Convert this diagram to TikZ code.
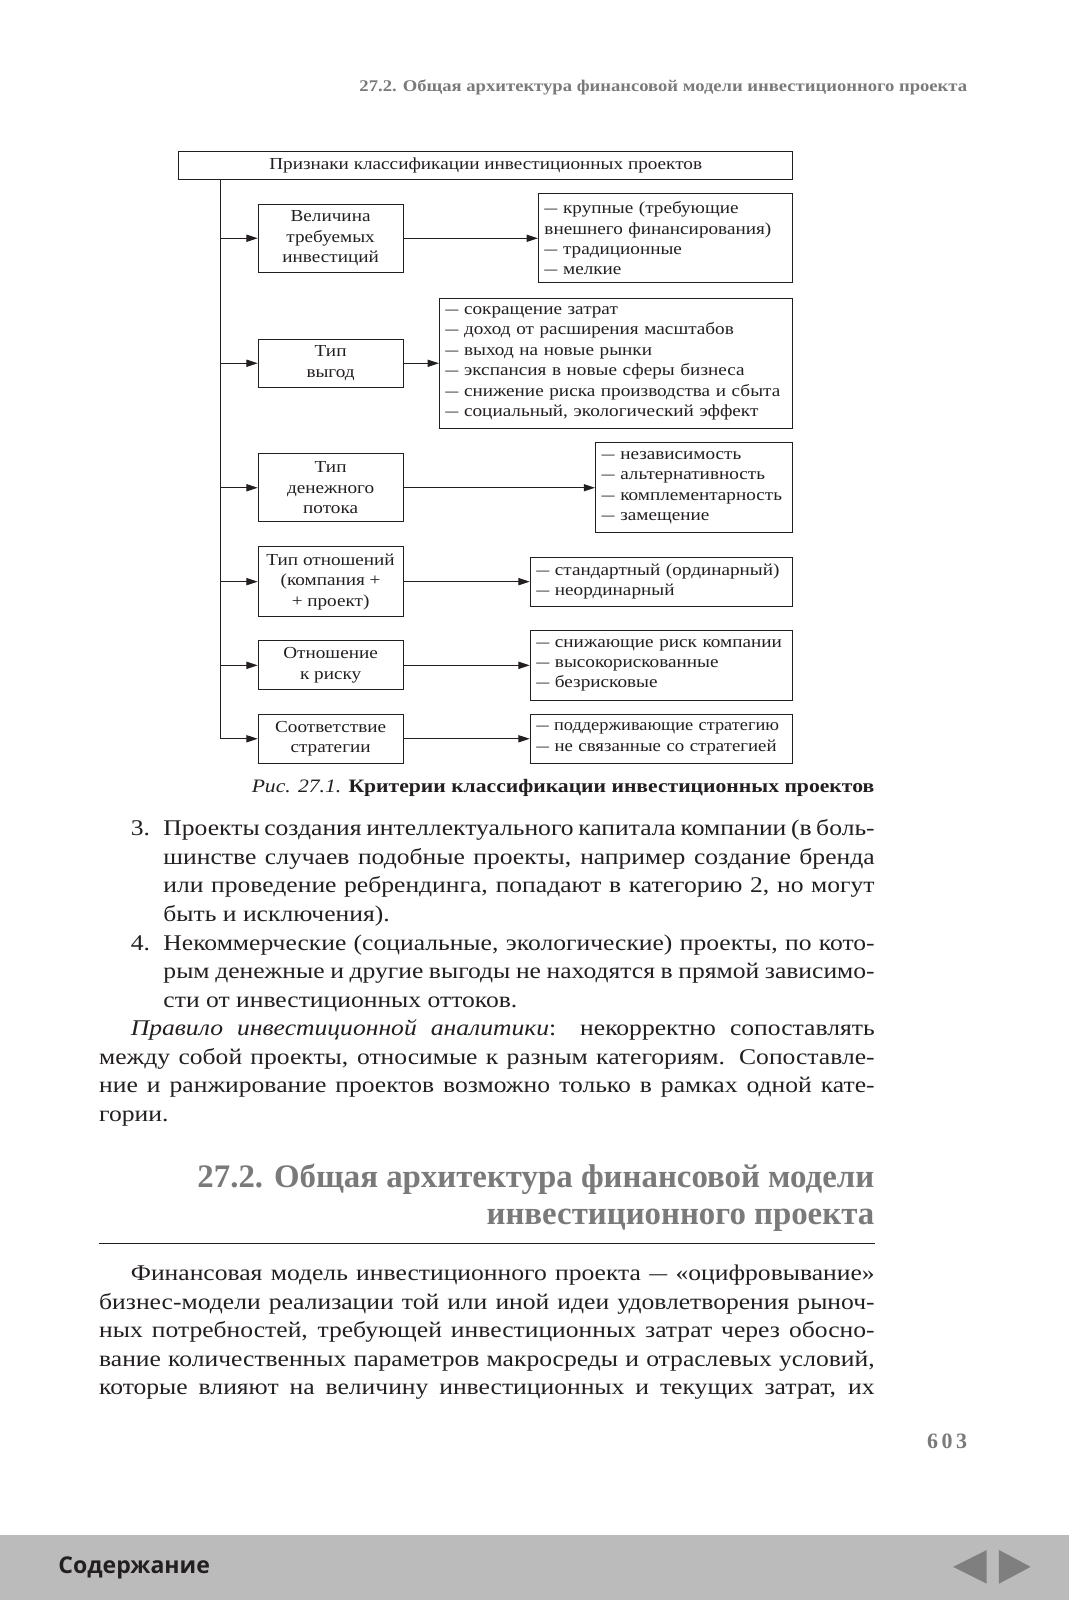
\documentclass[tikz,border=0pt]{standalone}
\usepackage{graphicx}
\usepackage{fontspec}
\setmainfont{Liberation Serif}[FakeStretch=1.14]
\newfontfamily\headfont{Liberation Serif}
\newfontfamily\footfont{Open Sans}
\usetikzlibrary{arrows.meta}
\definecolor{ink}{HTML}{231F20}
\definecolor{headgray}{HTML}{7A7A7A}
\definecolor{barfill}{HTML}{BBBBBB}
\definecolor{navgray}{HTML}{7F7F7F}
\newcommand\dsh{\scalebox{0.68}[1]{—}}
\newcommand\bodyln[5]{\node[txt] (#1) at (#2,#3) {\makebox[#4pt][s]{#5}};}
\newcommand\raggln[4]{\node[txt] (#1) at (#2,#3) {#4};}
\begin{document}
\begin{tikzpicture}[x=1pt,y=-1pt,
  diag/.style={font=\fontsize{16.5}{20}\selectfont, text=ink},
  lbox/.style={draw=ink, line width=0.9pt, minimum width=142pt, inner sep=0pt, align=center, diag},
  rbox/.style={draw=ink, line width=0.9pt, inner xsep=6pt, inner ysep=0pt, align=left, diag, anchor=east},
  arr/.style={-{Triangle[length=11pt,width=7pt]}, line width=0.9pt, draw=ink},
  txt/.style={inner sep=0pt, anchor=base west, text=ink, font=\fontsize{22}{28}\selectfont}]
\useasboundingbox (0,0) rectangle (1047.6,1568);
\fill[white] (0,0) rectangle (1047.6,1568);

% running header
\node[inner sep=0pt, anchor=base east, text=headgray, font=\fontsize{16}{20}\selectfont\bfseries] (hdr) at (948,90) {27.2. Общая архитектура финансовой модели инвестиционного проекта};

% diagram
\node[draw=ink, line width=0.9pt, minimum width=602pt, minimum height=28pt, inner sep=0pt, diag] (title) at (476,162) {Признаки классификации инвестиционных проектов};
\coordinate (vtop) at (216,176);
\coordinate (vbot) at (216,724);
\draw[line width=0.9pt, ink] (vtop) -- (vbot);

\node[lbox, minimum height=67pt] (b1) at (324,233.5) {Величина\\требуемых\\инвестиций};
\node[lbox, minimum height=47pt] (b2) at (324,356) {Тип\\выгод};
\node[lbox, minimum height=67pt] (b3) at (324,478) {Тип\\денежного\\потока};
\node[lbox, minimum height=68pt] (b4) at (324,570) {Тип отношений\\(компания +\\+ проект)};
\node[lbox, minimum height=48pt] (b5) at (324,652) {Отношение\\к риску};
\node[lbox, minimum height=48pt] (b6) at (324,724) {Соответствие\\стратегии};

\node[rbox, text width=237pt, minimum height=87pt] (r1) at (777,233.5) {\dsh~крупные (требующие\\внешнего финансирования)\\\dsh~традиционные\\\dsh~мелкие};
\node[rbox, text width=334pt, minimum height=128pt] (r2) at (777,356) {\dsh~сокращение затрат\\\dsh~доход от расширения масштабов\\\dsh~выход на новые рынки\\\dsh~экспансия в новые сферы бизнеса\\\dsh~снижение риска производства и сбыта\\\dsh~социальный, экологический эффект};
\node[rbox, text width=181pt, minimum height=88pt] (r3) at (777,478) {\dsh~независимость\\\dsh~альтернативность\\\dsh~комплементарность\\\dsh~замещение};
\node[rbox, text width=245pt, minimum height=48pt] (r4) at (777,570) {\mbox{\dsh~стандартный (ординарный)}\\\dsh~неординарный};
\node[rbox, text width=245pt, minimum height=68pt] (r5) at (777,652) {\mbox{\dsh~снижающие риск компании}\\\dsh~высокорискованные\\\dsh~безрисковые};
\node[rbox, text width=245pt, minimum height=48pt] (r6) at (777,724) {\scalebox{0.955}[1]{\dsh~поддерживающие стратегию}\\\scalebox{0.98}[1]{\dsh~не связанные со стратегией}};

\foreach \b/\r in {b1/r1,b2/r2,b3/r3,b4/r4,b5/r5,b6/r6}{
  \draw[arr] (\b.west -| vtop) -- (\b.west);
  \draw[arr] (\b.east) -- (\r.west);
}

\node[inner sep=0pt, anchor=base east, text=ink, font=\fontsize{18.6}{22}\selectfont] (cap) at (857,777) {\textit{Рис. 27.1.} \textbf{Критерии классификации инвестиционных проектов}};

% list
\raggln{n3}{128}{819}{3.}
\bodyln{l1}{160}{819}{697}{Проекты создания интеллектуального капитала компании (в боль-}
\bodyln{l2}{160}{847}{697}{шинстве случаев подобные проекты, например создание бренда}
\bodyln{l3}{160}{875}{697}{или проведение ребрендинга, попадают в категорию 2, но могут}
\raggln{l4}{160}{903}{быть и исключения).}
\raggln{n4}{128}{931}{4.}
\bodyln{l5}{160}{931}{697}{Некоммерческие (социальные, экологические) проекты, по кото-}
\bodyln{l6}{160}{959}{697}{рым денежные и другие выгоды не находятся в прямой зависимо-}
\raggln{l7}{160}{987}{сти от инвестиционных оттоков.}
\bodyln{l8}{128}{1015}{729}{\textit{Правило инвестиционной аналитики}: некорректно сопоставлять}
\bodyln{l9}{97}{1043}{760}{между собой проекты, относимые к разным категориям. Сопоставле-}
\bodyln{l10}{97}{1071}{760}{ние и ранжирование проектов возможно только в рамках одной кате-}
\raggln{l11}{97}{1099}{гории.}

% section heading
\node[inner sep=0pt, anchor=base east, text=headgray, font=\headfont\fontsize{32.2}{38}\selectfont\bfseries] (h1) at (857,1164) {27.2. Общая архитектура финансовой модели};
\node[inner sep=0pt, anchor=base east, text=headgray, font=\headfont\fontsize{32.2}{38}\selectfont\bfseries] (h2) at (857,1200) {инвестиционного проекта};
\draw[line width=1pt, ink] (97,1219) -- (857,1219);

\bodyln{p1}{128}{1255}{729}{Финансовая модель инвестиционного проекта \scalebox{0.7}[1]{—} «оцифровывание»}
\bodyln{p2}{97}{1283}{760}{бизнес-модели реализации той или иной идеи удовлетворения рыноч-}
\bodyln{p3}{97}{1311}{760}{ных потребностей, требующей инвестиционных затрат через обосно-}
\bodyln{p4}{97}{1339}{760}{вание количественных параметров макросреды и отраслевых условий,}
\bodyln{p5}{97}{1367}{760}{которые влияют на величину инвестиционных и текущих затрат, их}

\node[inner sep=0pt, anchor=base east, text=headgray, font=\headfont\fontsize{21.5}{24}\selectfont\bfseries] (pg) at (948,1420) {6\hspace{3.5pt}0\hspace{3.5pt}3};

% footer bar
\fill[barfill] (0,1504) rectangle (1047.6,1568);
\node[inner sep=0pt, anchor=base west, text=ink, font=\footfont\fontsize{22.6}{26}\selectfont\bfseries] (cont) at (57,1542) {Содержание};
\fill[navgray] (967,1519) -- (967,1552) -- (934,1535.5) -- cycle;
\fill[navgray] (979,1519) -- (979,1552) -- (1010,1535.5) -- cycle;
\end{tikzpicture}
\end{document}
